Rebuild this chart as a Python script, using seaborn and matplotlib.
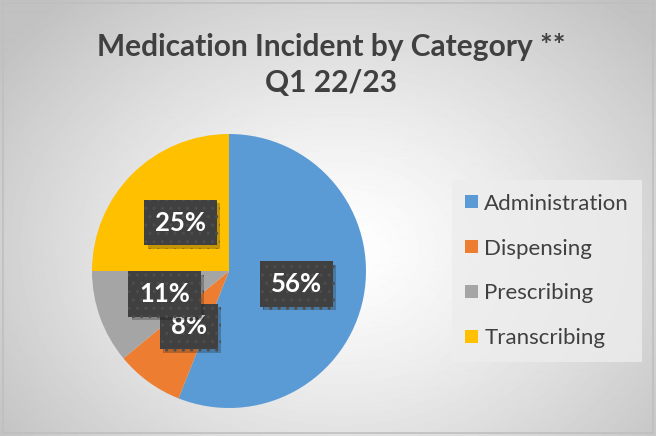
import numpy as np
import matplotlib
matplotlib.use("Agg")
import matplotlib.pyplot as plt
import matplotlib.patheffects as pe
from matplotlib.patches import Rectangle
import seaborn as sns

# Data
categories = ["Administration", "Dispensing", "Prescribing", "Transcribing"]
shares = [56, 8, 11, 25]
colors = ["#5B9BD5", "#ED7D31", "#A5A5A5", "#FFC000"]
title = "Medication Incident by Category **\nQ1 22/23"

sns.set_theme(style="white")
plt.rcParams["font.family"] = ["Lato", "DejaVu Sans"]

fig = plt.figure(figsize=(6.56, 4.36), dpi=100)

# radial grey-to-white background like the Excel chart area
bg = fig.add_axes([0, 0, 1, 1], zorder=0)
yy, xx = np.mgrid[0:436, 0:656]
dist = np.sqrt(((xx - 340) / 420.0) ** 2 + ((yy - 250) / 330.0) ** 2)
shade = np.clip(1.0 - 0.24 * dist ** 1.3, 0.76, 1.0)
bg.imshow(shade, cmap="gray", vmin=0, vmax=1, aspect="auto",
          extent=[0, 1, 0, 1], origin="upper")
bg.set_xlim(0, 1)
bg.set_ylim(0, 1)
bg.axis("off")
bg.add_patch(Rectangle((0.004, 0.006), 0.992, 0.988, transform=bg.transAxes,
                       fill=False, edgecolor="#bfbfbf", lw=1.2))

# pie axes, centre ~ (229, 271) px, radius ~137 px
ax = fig.add_axes([92 / 656, 28 / 436, 274 / 656, 274 / 436], zorder=1)
ax.patch.set_alpha(0)
wedges, texts, autotexts = ax.pie(
    shares, colors=colors, startangle=90, counterclock=False,
    autopct="%.0f%%", pctdistance=0.5, radius=1,
    wedgeprops=dict(linewidth=0),
    textprops=dict(color="white", fontsize=18.5, fontweight="bold"))
ax.set_xlim(-1, 1)
ax.set_ylim(-1, 1)
ax.axis("off")

for t in autotexts:
    t.set_bbox(dict(boxstyle="square,pad=0.42", facecolor="#404040",
                    edgecolor="#4d4d4d", linewidth=0, hatch=".."))
    t.get_bbox_patch().set_path_effects(
        [pe.SimplePatchShadow(offset=(2.5, -2.5), alpha=0.25), pe.Normal()])

fig.text(0.505, 0.85, title, ha="center", va="center", fontsize=21.5,
         fontweight="bold", color="#404040", linespacing=1.35)

leg = ax.legend(wedges, categories, loc="center left",
                bbox_to_anchor=(452 / 656, 1 - 271 / 436),
                bbox_transform=fig.transFigure,
                frameon=True, fancybox=False, fontsize=16,
                labelspacing=1.12, handlelength=0.55, handleheight=0.55,
                handletextpad=0.3, borderpad=0.6, borderaxespad=0)
leg.get_frame().set_facecolor("#ededed")
leg.get_frame().set_edgecolor("none")
leg.get_frame().set_alpha(0.8)
for txt in leg.get_texts():
    txt.set_color("#404040")

fig.savefig("out.png", dpi=100)
